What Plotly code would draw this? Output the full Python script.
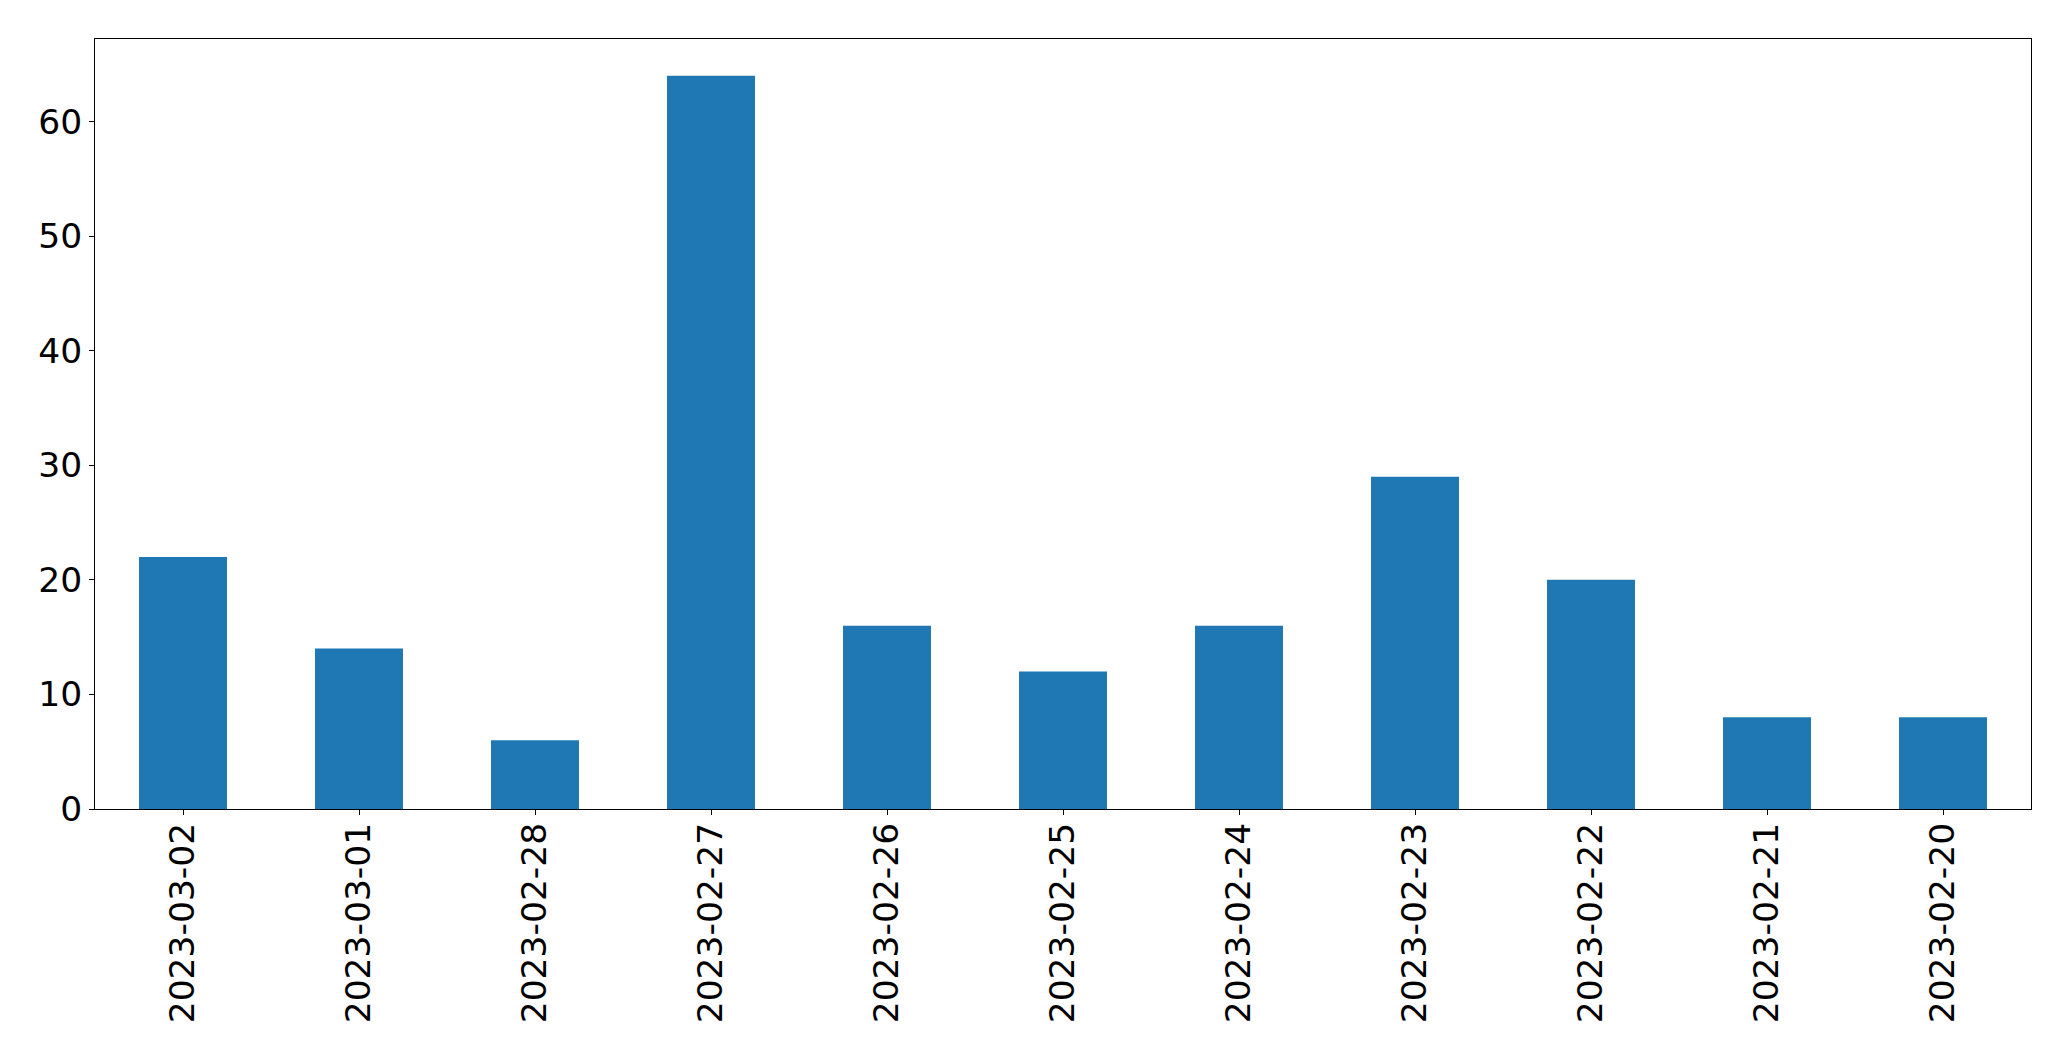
import plotly.graph_objects as go

dates = ["2023-03-02", "2023-03-01", "2023-02-28", "2023-02-27", "2023-02-26",
         "2023-02-25", "2023-02-24", "2023-02-23", "2023-02-22", "2023-02-21",
         "2023-02-20"]
counts = [22, 14, 6, 64, 16, 12, 16, 29, 20, 8, 8]

fig = go.Figure(go.Bar(x=dates, y=counts, width=0.5, marker=dict(color="#1f77b4", line=dict(width=0))))

font = dict(family="DejaVu Sans", size=34.5, color="black")
# page body has an 8px default margin; compensate so the plot area lands where the reference has it
fig.update_layout(
    width=2063, height=1053,
    margin=dict(l=87, r=40, t=31, b=252),
    plot_bgcolor="white", paper_bgcolor="white",
    showlegend=False,
    font=font,
)
fig.update_xaxes(
    type="category", range=[-0.5, len(dates) - 0.5], automargin=False,
    showline=True, linecolor="black", linewidth=1, mirror=True,
    ticks="outside", ticklen=5, tickwidth=1, tickcolor="black",
    tickangle=-90, showgrid=False, tickfont=font, ticklabelstandoff=-6,
)
fig.update_yaxes(
    range=[0, max(counts) * 1.05], automargin=False,
    tickvals=[0, 10, 20, 30, 40, 50, 60],
    showline=True, linecolor="black", linewidth=1, mirror=True,
    ticks="outside", ticklen=5, tickwidth=1, tickcolor="black",
    showgrid=False, zeroline=False, tickfont=font,
)
fig.write_html("out.html")
